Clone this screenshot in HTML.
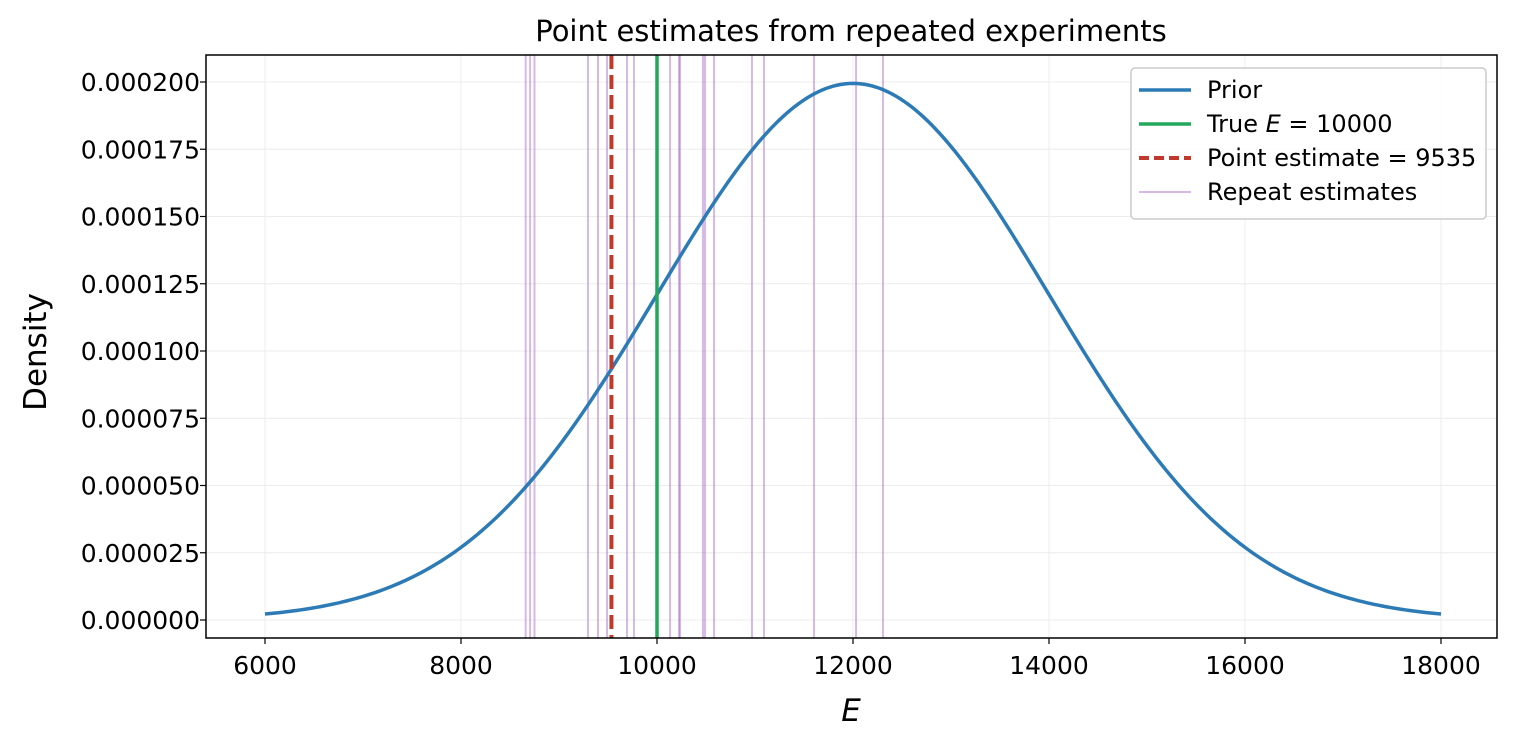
<!DOCTYPE html>
<html><head><meta charset="utf-8"><style>
body{margin:0;background:#fff;font-family:"Liberation Sans","DejaVu Sans",sans-serif}
svg text{font-family:"DejaVu Sans","Liberation Sans",sans-serif}
</style></head><body>
<svg id="c" width="1516" height="745" viewBox="0 0 1516 745"></svg>
<script>
const xTicks=[6000,8000,10000,12000,14000,16000,18000];
const yTicks=[0,0.000025,0.00005,0.000075,0.0001,0.000125,0.00015,0.000175,0.0002];
const yTickLabels=["0.000000","0.000025","0.000050","0.000075","0.000100","0.000125","0.000150","0.000175","0.000200"];
const repeatEstimates=[8660,8705,8750,9296,9398,9490,9694,9765,10133,10224,10235,10469,10490,10582,10969,11092,11602,12031,12306];
const trueE=10000;
const pointEstimate=9535;
const priorMean=12000, priorSd=2000;
const xMin=6000,xMax=18000;

const L=206,R=1497,T=55,B=638;
const sx=v=>265+(v-6000)*(1441-265)/12000;
const sy=v=>620-v*(620-82)/0.0002;
const svg=document.getElementById('c');
const NS='http://www.w3.org/2000/svg';
function mk(t,a,p){const e=document.createElementNS(NS,t);for(const k in a)e.setAttribute(k,a[k]);(p||svg).appendChild(e);return e;}

xTicks.forEach(v=>{const g=mk('line',{x1:sx(v),x2:sx(v),y1:T,y2:B,stroke:'#ececec','stroke-width':1});

});
yTicks.forEach(v=>{const g=mk('line',{x1:L,x2:R,y1:sy(v),y2:sy(v),stroke:'#ececec','stroke-width':1});

});

repeatEstimates.forEach(v=>{const l=mk('line',{x1:sx(v),x2:sx(v),y1:T,y2:B,stroke:'#9b4fbf','stroke-opacity':0.4,'stroke-width':2});

});

let d='';
for(let i=0;i<=300;i++){const x=xMin+(xMax-xMin)*i/300;const y=Math.exp(-0.5*((x-priorMean)/priorSd)**2)/(priorSd*Math.sqrt(2*Math.PI));d+=(i?'L':'M')+sx(x).toFixed(2)+' '+sy(y).toFixed(2);}
const pr=mk('path',{d:d,fill:'none',stroke:'#2c7bb6','stroke-width':3.5});



const tl=mk('line',{x1:sx(trueE),x2:sx(trueE),y1:T,y2:B,stroke:'#22a85a','stroke-width':3.5});


const pl=mk('line',{x1:sx(pointEstimate),x2:sx(pointEstimate),y1:T,y2:B,stroke:'#c0392b','stroke-width':4,'stroke-dasharray':'14 6'});



const fr=mk('rect',{x:L,y:T,width:R-L,height:B-T,fill:'none',stroke:'#000','stroke-width':1.5});



xTicks.forEach(v=>{mk('line',{x1:sx(v),x2:sx(v),y1:B,y2:B+6,stroke:'#000','stroke-width':1.2});
const t=mk('text',{x:sx(v),y:B+36,'text-anchor':'middle','font-size':25});t.textContent=v;

});
yTicks.forEach((v,i)=>{mk('line',{x1:L-6,x2:L,y1:sy(v),y2:sy(v),stroke:'#000','stroke-width':1.2});
const t=mk('text',{x:L-6,y:sy(v)+9,'text-anchor':'end','font-size':25});t.textContent=yTickLabels[i];

});

const xt=mk('text',{x:851,y:721,'text-anchor':'middle','font-size':31,'font-style':'italic'});xt.textContent='E';


const yt=mk('text',{x:46,y:352,'text-anchor':'middle','font-size':31,transform:'rotate(-90 46 352)'});yt.textContent='Density';


const ti=mk('text',{x:851,y:41,'text-anchor':'middle','font-size':29});ti.textContent='Point estimates from repeated experiments';



const lg=mk('g',{});


mk('rect',{x:1131,y:68,width:355,height:151,rx:4,fill:'#fff','fill-opacity':0.85,stroke:'#ccc','stroke-width':1.5},lg);
const items=[['Prior','#2c7bb6',3.5,null,1],['True E = 10000','#22a85a',3.5,null,1],['Point estimate = 9535','#c0392b',4,'10 5',1],['Repeat estimates','#9b4fbf',2,null,0.4]];
items.forEach((it,i)=>{const y=90+i*34;
mk('line',{x1:1139,x2:1191,y1:y,y2:y,stroke:it[1],'stroke-width':it[2],'stroke-dasharray':it[3]||'none','stroke-opacity':it[4]},lg);
const t=mk('text',{x:1207,y:y+8,'font-size':24},lg);
if(i===1){t.innerHTML='True <tspan font-style="italic">E</tspan> = 10000';}else t.textContent=it[0];

});
</script>
</body></html>
